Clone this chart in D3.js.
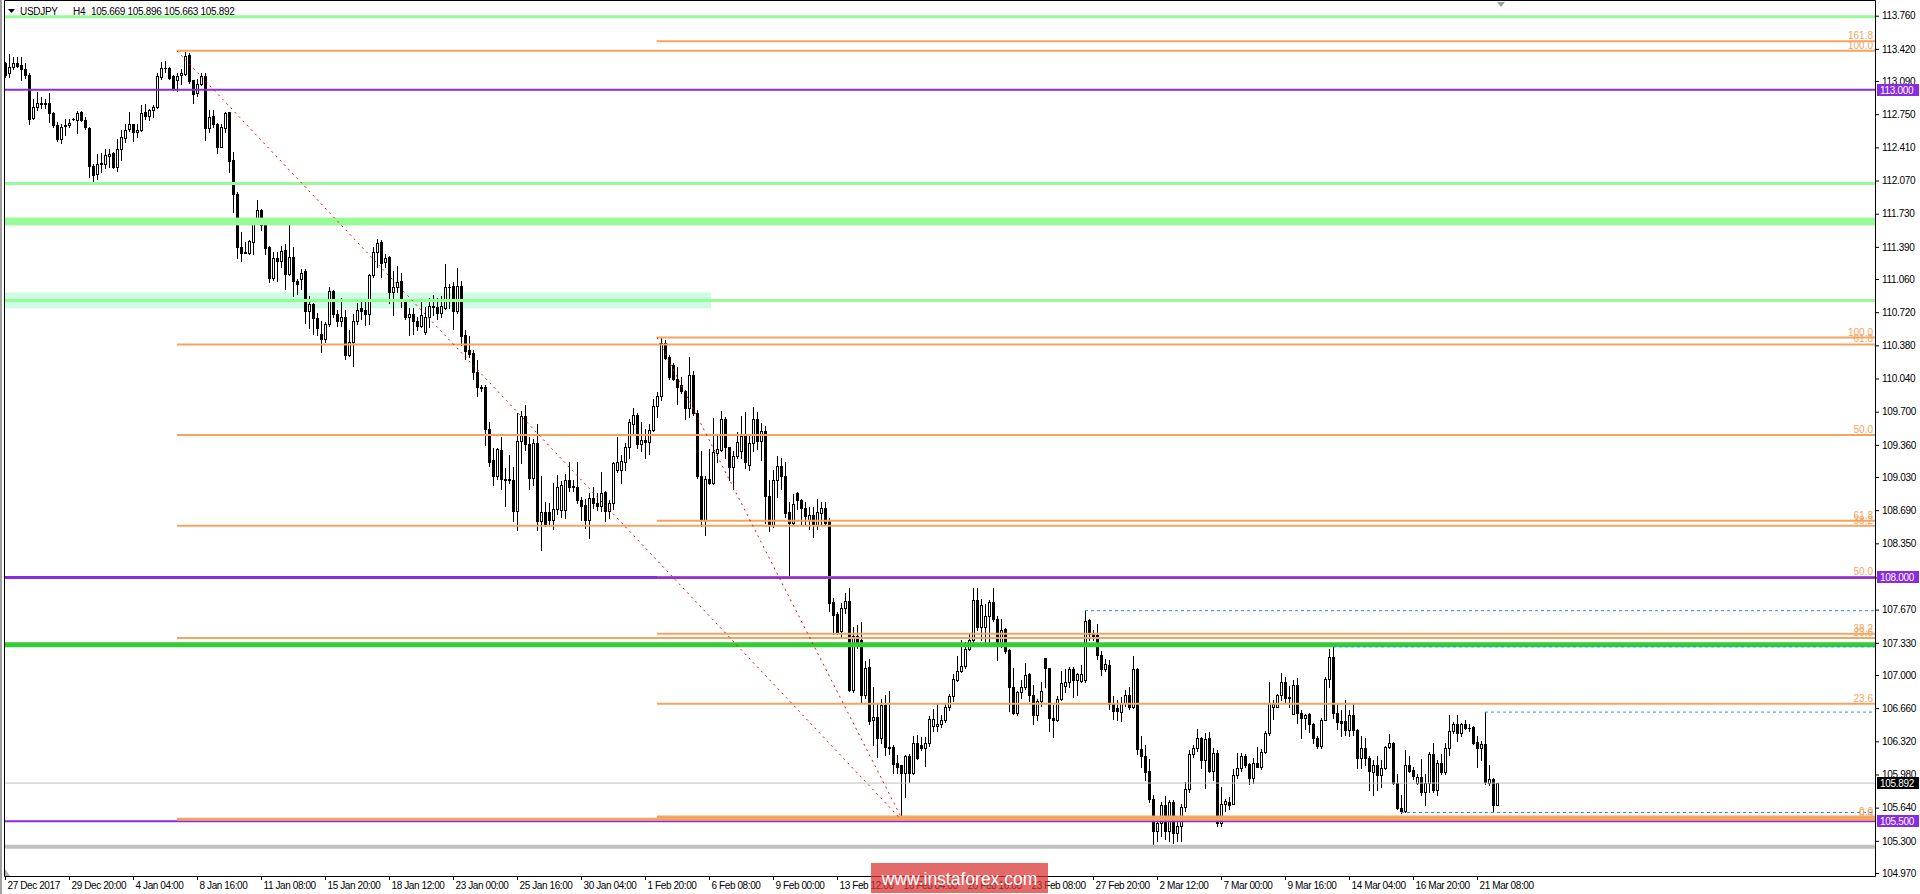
<!DOCTYPE html>
<html>
<head>
<meta charset="utf-8">
<script src="https://cdnjs.cloudflare.com/ajax/libs/d3/7.8.5/d3.min.js"></script>
<style>
  body { margin: 0; background: #fff; overflow: hidden; }
  svg text { font-family: Tahoma, "Liberation Sans", Arial, sans-serif; }
</style>
</head>
<body>
<svg id="chart" width="1920" height="894"></svg>
<script>
// ---- data ----
const symbol = 'USDJPY', period = 'H4';

const opens = [
  113.27,113.17,113.23,113.28,113.25,113.21,113.15,112.71,112.82,112.87,
  112.85,112.87,112.76,112.64,112.50,112.64,112.64,112.70,112.69,112.77,
  112.69,112.61,112.22,112.14,112.24,112.24,112.32,112.35,112.21,112.39,
  112.51,112.60,112.65,112.57,112.59,112.77,112.73,112.79,112.82,113.13,
  113.22,113.22,113.14,113.10,113.15,113.16,113.36,113.10,112.97,113.06,
  113.14,112.61,112.73,112.65,112.41,112.61,112.77,112.28,111.93,111.39,
  111.34,111.33,111.44,111.68,111.77,111.61,111.39,111.07,111.28,111.24,
  111.36,111.11,111.29,111.04,111.06,111.14,110.73,110.80,110.66,110.50,
  110.45,110.60,110.94,110.70,110.63,110.67,110.28,110.41,110.63,110.76,
  110.74,110.70,111.10,111.34,111.44,111.23,111.29,110.93,110.98,111.04,
  110.83,110.67,110.70,110.63,110.58,110.52,110.67,110.78,110.77,110.71,
  110.76,110.98,110.99,110.73,110.99,110.49,110.33,110.30,110.11,109.95,
  109.95,109.52,109.20,109.04,109.31,109.01,109.00,109.00,108.68,109.40,
  109.66,109.37,109.02,109.38,108.58,108.67,108.67,108.59,108.70,108.69,
  108.69,109.00,108.93,108.93,108.79,108.74,108.59,108.81,108.76,108.73,
  108.88,108.68,108.76,109.10,109.10,109.18,109.34,109.57,109.67,109.37,
  109.41,109.39,109.51,109.76,109.86,110.40,110.26,110.18,110.03,109.97,
  109.91,109.74,110.08,109.69,109.04,108.59,109.01,108.97,109.28,109.31,
  109.63,109.34,109.13,109.25,109.30,109.45,109.15,109.38,109.62,109.40,
  109.50,108.84,108.54,109.00,109.14,109.04,108.67,108.56,108.87,108.79,
  108.71,108.59,108.64,108.54,108.66,108.71,108.59,107.75,107.63,107.45,
  107.69,107.76,106.85,107.40,107.36,106.80,107.08,106.54,106.57,106.35,
  106.69,106.26,106.26,106.10,106.08,106.00,106.17,106.00,106.30,106.28,
  106.25,106.30,106.48,106.48,106.50,106.54,106.67,106.78,106.95,107.04,
  107.09,107.27,107.36,107.77,107.49,107.49,107.60,107.75,107.57,107.31,
  107.47,107.26,106.88,106.61,106.83,106.88,107.01,106.80,106.59,106.73,
  107.17,107.07,106.56,106.54,106.75,106.89,106.93,107.06,106.95,106.94,
  106.95,107.56,107.42,107.41,107.21,107.06,107.10,106.71,106.66,106.62,
  106.71,106.79,106.67,107.06,106.24,106.17,106.02,105.73,105.40,105.48,
  105.67,105.40,105.70,105.38,105.45,105.65,105.83,106.19,106.25,106.35,
  106.13,106.35,106.02,106.20,105.48,105.68,105.70,105.68,105.97,106.05,
  106.17,106.09,105.94,106.10,106.06,106.21,106.41,106.67,106.67,106.79,
  106.93,106.77,106.60,106.90,106.61,106.56,106.60,106.50,106.35,106.27,
  106.54,106.96,107.18,106.61,106.53,106.53,106.44,106.59,106.44,106.15,
  106.25,106.15,106.01,106.08,105.97,106.05,106.26,106.30,105.89,105.64,
  105.61,106.08,106.03,105.89,105.95,105.80,105.89,106.19,105.82,106.10,
  106.01,106.25,106.43,106.50,106.41,106.50,106.46,106.47,106.31,106.25,
  106.29,105.89,105.93,105.669
];
const highs = [
  113.29,113.37,113.34,113.34,113.34,113.27,113.17,112.91,112.98,112.93,
  112.91,112.97,112.77,112.67,112.65,112.70,112.70,112.71,112.78,112.78,
  112.72,112.62,112.24,112.34,112.35,112.39,112.39,112.36,112.50,112.59,
  112.65,112.77,112.65,112.65,112.84,112.85,112.80,112.84,113.17,113.29,
  113.30,113.23,113.15,113.17,113.21,113.39,113.38,113.10,113.11,113.17,
  113.17,112.79,112.79,112.66,112.65,112.77,112.77,112.36,111.95,111.54,
  111.44,111.46,111.69,111.87,111.78,111.62,111.40,111.34,111.34,111.40,
  111.42,111.68,111.39,111.06,111.16,111.16,110.89,110.81,110.71,110.63,
  110.62,110.98,110.95,110.74,110.87,110.74,110.54,110.70,110.81,110.85,
  110.83,111.11,111.39,111.47,111.46,111.32,111.30,111.14,111.19,111.12,
  110.84,110.76,110.76,110.67,110.83,110.77,110.87,110.90,110.87,110.89,
  111.21,111.01,111.03,111.17,111.04,110.54,110.48,110.33,110.23,109.97,
  109.97,109.59,109.33,109.33,109.44,109.12,109.26,109.13,109.69,109.71,
  109.77,109.44,109.42,109.57,109.04,108.77,108.76,108.97,109.05,108.99,
  109.06,109.18,109.00,109.18,108.83,108.80,108.87,108.93,108.87,109.08,
  108.89,108.79,109.18,109.44,109.26,109.38,109.63,109.74,109.69,109.59,
  109.52,109.57,109.83,109.90,110.46,110.43,110.28,110.20,110.16,110.06,
  109.92,110.26,110.12,109.72,109.30,109.04,109.32,109.64,109.46,109.71,
  109.65,109.34,109.30,109.49,109.66,109.70,109.45,109.75,109.70,109.58,
  109.55,109.00,109.10,109.25,109.22,109.18,108.77,108.86,108.88,108.80,
  108.77,108.72,108.72,108.80,108.77,108.77,108.61,107.79,107.65,107.74,
  107.84,107.89,107.49,107.51,107.54,107.14,107.16,106.88,106.70,106.75,
  106.79,106.84,106.28,106.18,106.08,106.18,106.19,106.37,106.38,106.36,
  106.36,106.58,106.65,106.71,106.59,106.71,106.81,107.01,107.20,107.36,
  107.34,107.43,107.89,107.89,107.78,107.73,107.77,107.89,107.60,107.57,
  107.48,107.27,107.07,106.84,106.95,107.12,107.02,106.90,106.75,106.93,
  107.17,107.07,106.69,106.78,107.04,107.06,107.08,107.08,107.02,107.10,
  107.66,107.57,107.46,107.52,107.25,107.16,107.15,106.78,106.74,106.77,
  106.85,106.88,107.19,107.07,106.37,106.28,106.14,105.77,105.55,105.70,
  105.76,105.72,105.72,105.52,105.68,105.90,106.23,106.28,106.45,106.36,
  106.41,106.42,106.25,106.23,105.85,105.73,105.75,106.04,106.20,106.20,
  106.19,106.10,106.15,106.26,106.24,106.43,106.93,106.74,106.81,107.02,
  106.98,106.89,106.95,106.97,106.64,106.60,106.61,106.51,106.37,106.56,
  106.98,107.27,107.29,106.71,106.64,106.74,106.64,106.71,106.45,106.37,
  106.35,106.17,106.13,106.17,106.13,106.27,106.40,106.31,105.99,105.77,
  106.23,106.17,106.06,105.99,106.14,105.99,106.21,106.30,106.13,106.19,
  106.30,106.59,106.52,106.59,106.51,106.54,106.50,106.48,106.37,106.32,
  106.62,106.08,105.94,105.896
];
const lows = [
  113.13,113.13,113.21,113.23,113.10,113.12,112.65,112.70,112.79,112.81,
  112.81,112.67,112.62,112.48,112.45,112.54,112.62,112.69,112.56,112.68,
  112.60,112.11,112.04,112.09,112.16,112.20,112.21,112.20,112.17,112.28,
  112.46,112.58,112.48,112.52,112.58,112.70,112.69,112.72,112.81,113.11,
  113.18,113.11,113.00,112.99,113.06,113.15,113.07,112.86,112.94,113.05,
  112.49,112.57,112.62,112.35,112.41,112.57,112.16,111.75,111.28,111.25,
  111.33,111.32,111.32,111.66,111.56,111.32,111.03,111.05,111.04,111.18,
  110.96,111.10,110.89,110.91,110.96,110.61,110.56,110.50,110.49,110.31,
  110.41,110.58,110.67,110.58,110.58,110.24,110.27,110.17,110.60,110.65,
  110.59,110.60,111.08,111.18,111.08,111.18,110.81,110.69,110.93,110.77,
  110.65,110.49,110.50,110.54,110.57,110.50,110.57,110.69,110.65,110.67,
  110.75,110.76,110.55,110.71,110.38,110.24,110.26,110.04,109.86,109.91,
  109.36,109.14,108.95,109.01,108.91,108.73,108.97,108.58,108.49,109.17,
  109.31,108.91,108.95,108.49,108.28,108.53,108.54,108.50,108.65,108.62,
  108.61,108.89,108.89,108.76,108.59,108.51,108.40,108.71,108.69,108.68,
  108.58,108.61,108.70,109.08,108.97,109.10,109.22,109.48,109.33,109.30,
  109.22,109.27,109.50,109.65,109.82,110.24,110.03,110.02,109.78,109.89,
  109.62,109.65,109.67,109.02,108.53,108.44,108.96,108.96,109.18,109.30,
  109.23,109.00,108.91,109.23,109.23,109.12,109.10,109.30,109.32,109.20,
  108.56,108.48,108.52,108.83,108.91,108.62,108.02,108.54,108.70,108.55,
  108.55,108.50,108.42,108.50,108.55,108.55,107.66,107.42,107.42,107.38,
  107.64,106.84,106.83,107.28,106.71,106.76,106.50,106.28,106.16,106.30,
  106.18,106.19,106.00,106.00,105.52,105.75,105.90,105.98,106.14,106.23,
  106.07,106.27,106.43,106.43,106.47,106.52,106.64,106.73,106.94,107.03,
  107.07,107.26,107.33,107.46,107.36,107.34,107.32,107.55,107.15,107.29,
  107.23,106.63,106.60,106.59,106.76,106.86,106.73,106.50,106.54,106.68,
  106.88,106.43,106.36,106.53,106.74,106.83,106.88,106.77,106.80,106.93,
  106.93,107.36,107.36,107.16,107.00,107.04,106.65,106.55,106.54,106.53,
  106.68,106.65,106.66,106.19,106.06,105.92,105.70,105.25,105.30,105.35,
  105.32,105.30,105.28,105.30,105.30,105.61,105.80,106.16,106.22,106.05,
  105.84,106.01,105.92,105.45,105.45,105.61,105.63,105.68,105.94,106.02,
  106.06,105.88,105.89,106.06,106.04,106.20,106.39,106.55,106.67,106.74,
  106.71,106.67,106.60,106.51,106.35,106.45,106.42,106.30,106.25,106.25,
  106.54,106.88,106.56,106.45,106.37,106.38,106.37,106.38,106.05,106.05,
  106.08,105.82,105.77,105.82,105.85,106.04,106.25,105.88,105.63,105.59,
  105.60,106.01,105.93,105.88,105.77,105.67,105.80,105.80,105.77,105.98,
  105.99,106.18,106.41,106.32,106.37,106.45,106.43,106.29,106.06,106.13,
  105.88,105.87,105.61,105.663
];
const closes = [
  113.15,113.23,113.28,113.24,113.21,113.15,112.70,112.82,112.87,112.85,
  112.87,112.76,112.64,112.50,112.62,112.63,112.66,112.70,112.76,112.69,
  112.62,112.22,112.13,112.24,112.25,112.33,112.34,112.21,112.39,112.52,
  112.59,112.65,112.57,112.59,112.76,112.73,112.79,112.82,113.14,113.22,
  113.22,113.12,113.01,113.14,113.17,113.35,113.09,112.96,113.06,113.14,
  112.61,112.72,112.65,112.41,112.62,112.76,112.27,111.93,111.39,111.33,
  111.33,111.45,111.68,111.77,111.61,111.38,111.07,111.28,111.24,111.35,
  111.11,111.29,111.04,111.01,111.12,110.73,110.80,110.66,110.56,110.45,
  110.60,110.94,110.70,110.63,110.67,110.28,110.41,110.63,110.74,110.73,
  110.70,111.10,111.34,111.43,111.22,111.28,110.93,110.98,111.03,110.83,
  110.67,110.70,110.63,110.58,110.69,110.67,110.78,110.77,110.71,110.78,
  110.98,110.98,110.73,110.99,110.48,110.32,110.29,110.11,109.95,109.94,
  109.52,109.18,109.04,109.32,109.01,109.00,109.01,108.68,109.40,109.66,
  109.37,109.02,109.38,108.58,108.67,108.54,108.59,108.70,108.93,108.95,
  109.00,108.93,108.94,108.79,108.73,108.59,108.81,108.76,108.73,108.87,
  108.68,108.76,109.17,109.18,109.19,109.34,109.59,109.67,109.37,109.41,
  109.39,109.51,109.76,109.86,110.40,110.25,110.06,110.03,109.95,109.91,
  109.74,110.08,109.69,109.04,108.59,109.01,108.97,109.29,109.32,109.63,
  109.34,109.13,109.25,109.39,109.45,109.18,109.38,109.62,109.40,109.50,
  108.84,108.54,109.00,109.14,109.04,108.66,108.56,108.75,108.79,108.71,
  108.63,108.64,108.54,108.67,108.71,108.56,107.74,107.62,107.44,107.69,
  107.76,106.85,107.40,107.33,106.80,107.07,106.53,106.57,106.35,106.69,
  106.26,106.25,106.09,106.06,106.00,106.17,106.00,106.30,106.15,106.25,
  106.30,106.55,106.55,106.50,106.54,106.67,106.78,106.96,107.04,107.09,
  107.27,107.36,107.77,107.49,107.72,107.60,107.75,107.57,107.31,107.46,
  107.25,106.88,106.61,106.83,106.88,107.00,106.80,106.59,106.73,106.84,
  107.07,106.56,106.54,106.75,106.92,106.93,107.06,106.95,107.01,107.01,
  107.55,107.42,107.40,107.21,107.06,107.11,106.70,106.63,106.63,106.71,
  106.79,106.67,107.06,106.24,106.17,106.01,105.73,105.40,105.48,105.67,
  105.40,105.70,105.38,105.45,105.65,105.83,106.19,106.25,106.35,106.13,
  106.34,106.02,106.20,105.48,105.68,105.71,105.67,105.97,106.05,106.17,
  106.08,105.94,106.10,106.06,106.21,106.41,106.71,106.70,106.79,106.93,
  106.76,106.76,106.90,106.61,106.56,106.59,106.50,106.35,106.27,106.54,
  106.96,107.18,106.61,106.52,106.51,106.44,106.59,106.44,106.15,106.25,
  106.15,106.02,106.08,105.97,106.05,106.26,106.30,105.89,105.64,105.61,
  106.08,106.02,105.96,105.95,105.80,105.89,106.19,105.82,106.10,106.01,
  106.25,106.43,106.50,106.41,106.50,106.46,106.46,106.30,106.25,106.29,
  105.90,105.93,105.67,105.892
];

// one label every 16 bars
const timeLabels = ['27 Dec 2017','29 Dec 20:00','4 Jan 04:00','8 Jan 16:00','11 Jan 08:00',
  '15 Jan 20:00','18 Jan 12:00','23 Jan 00:00','25 Jan 16:00','30 Jan 04:00','1 Feb 20:00',
  '6 Feb 08:00','9 Feb 00:00','13 Feb 12:00','16 Feb 04:00','20 Feb 16:00','23 Feb 08:00',
  '27 Feb 20:00','2 Mar 12:00','7 Mar 00:00','9 Mar 16:00','14 Mar 04:00','16 Mar 20:00','21 Mar 08:00'];

const priceTicks = [113.76,113.42,113.09,112.75,112.41,112.07,111.73,111.39,111.06,110.72,110.38,
  110.04,109.70,109.36,109.03,108.69,108.35,108.00,107.67,107.33,107.00,106.66,106.32,105.98,
  105.64,105.30,104.97];

// horizontal levels
const roundLevels = [113.0, 108.0, 105.5];      // purple, with axis tags
const greenLevels = [113.75, 112.04, 110.84];   // pale green lines
const greenZone = [111.61, 111.69];             // thick pale green
const mintZone = [110.76, 110.92];              // light zone rectangle
const mintZoneBars = [0, 176.5];
const limeLevel = 107.31;
const grayLevel = 105.24;

// fibonacci retracements: [startBar, endBar, high, low]
const fibA = [43, 224, 113.40, 105.52];
const fibALevels = [100, 61.8, 50, 38.2, 23.6, 0];
const fibB = [163, 224, 110.46, 105.545];
const fibBLevels = [161.8, 100, 61.8, 50, 38.2, 23.6, 0];

// dashed blue lines start at these bars' highs / lows
const blueFromHigh = [270, 332, 370];
const blueFromLow = [349];

// ---- drawing ----
const n = Math.min(opens.length, highs.length, lows.length, closes.length);
const bars = d3.range(n).map(i => ({i, o: opens[i], h: highs[i], l: lows[i], c: closes[i]}));
const last = bars[n - 1];

const axisX = 1875, axisY = 876, plotL = 4;

const x = d3.scaleLinear().domain([0, 373]).range([5, 1497]);
const y = d3.scaleLinear().domain([104.97, 113.76]).range([873, 15.7]);

const svg = d3.select('#chart');
svg.append('rect').attr('width', 1920).attr('height', 894).attr('fill', '#fff');

// background zone
svg.append('rect')
  .attr('x', x(mintZoneBars[0])).attr('width', x(mintZoneBars[1]) - x(mintZoneBars[0]))
  .attr('y', y(mintZone[1])).attr('height', y(mintZone[0]) - y(mintZone[1]))
  .attr('fill', '#ccfce4');

// candles
const cg = svg.append('g').attr('shape-rendering', 'crispEdges');
cg.selectAll('line').data(bars).join('line')
  .attr('x1', d => Math.round(x(d.i)) + 0.5).attr('x2', d => Math.round(x(d.i)) + 0.5)
  .attr('y1', d => Math.round(y(d.h))).attr('y2', d => Math.round(y(d.l)) + 1)
  .attr('stroke', '#000');
cg.selectAll('rect').data(bars).join('rect')
  .each(function(d) {
    const cx = Math.round(x(d.i));
    const top = Math.round(y(Math.max(d.o, d.c)));
    const bot = Math.round(y(Math.min(d.o, d.c)));
    const r = d3.select(this);
    if (d.c > d.o) {
      r.attr('x', cx - 0.5).attr('y', top + 0.5).attr('width', 2).attr('height', Math.max(bot - top, 1))
        .attr('fill', '#fff').attr('stroke', '#000');
    } else {
      r.attr('x', cx - 1).attr('y', top).attr('width', 3).attr('height', Math.max(bot - top + 1, 1))
        .attr('fill', '#000');
    }
  });

// objects on top of candles
const og = svg.append('g');
const hline = (price, x0, w, color, dash) =>
  og.append('line').attr('x1', x0).attr('x2', axisX).attr('y1', y(price)).attr('y2', y(price))
    .attr('stroke', color).attr('stroke-width', w).attr('stroke-dasharray', dash || null);

greenLevels.forEach(p => hline(p, plotL, 3, '#98fb98'));
og.append('rect').attr('x', plotL).attr('width', axisX - plotL)
  .attr('y', y(greenZone[1])).attr('height', y(greenZone[0]) - y(greenZone[1])).attr('fill', '#98fb98');
hline(limeLevel, plotL, 5, '#32cd32');
hline(grayLevel, plotL, 4, '#c0c0c0');
hline(last.c, plotL, 1, '#c0c0c0');

// round numbers (under the fib levels)
roundLevels.forEach(p => hline(p, plotL, p === 108 ? 3 : 2, '#8a2be2'));

// fibonacci
const fibs = [[fibA, fibALevels], [fibB, fibBLevels]];
fibs.forEach(([f, lv]) => {
  const [b0, b1, hi, lo] = f;
  lv.forEach(l => {
    const p = lo + (hi - lo) * l / 100;
    hline(p, x(b0), l === 0 ? 3 : 2, '#f4a460');
  });
});
// purple tops the 108 level again, as in the picture
hline(108.0, plotL, 2, '#8a2be2');

// fibonacci trend lines
fibs.forEach(([f]) => {
  const [b0, b1, hi, lo] = f;
  og.append('line').attr('x1', x(b0)).attr('y1', y(hi)).attr('x2', x(b1)).attr('y2', y(lo))
    .attr('stroke', '#ff0000').attr('stroke-width', 1).attr('stroke-dasharray', '2,4');
});

// blue dashed lines
blueFromHigh.forEach(i => hline(highs[i], x(i), 1, '#1e90ff', '3,3'));
blueFromLow.forEach(i => hline(lows[i], x(i), 1, '#1e90ff', '3,3'));

// fib labels
fibs.forEach(([f, lv]) => {
  const [b0, b1, hi, lo] = f;
  lv.forEach(l => {
    const p = lo + (hi - lo) * l / 100;
    og.append('text').attr('x', axisX - 2).attr('y', y(p) - 2)
      .attr('text-anchor', 'end').attr('font-size', 10).attr('fill', '#f4a460')
      .text(l.toFixed(1));
  });
});

// frame
svg.append('rect').attr('x', 0).attr('y', 0).attr('width', 2).attr('height', 894).attr('fill', '#a0a0a0');
svg.append('path')
  .attr('d', `M${plotL + 0.5},0.5H${axisX + 0.5}V${axisY + 0.5}H${plotL + 0.5}Z`)
  .attr('fill', 'none').attr('stroke', '#000');
// corner marker bottom-left
svg.append('path').attr('d', `M5,${axisY - 7}V${axisY}H10Z`).attr('fill', '#b0b0b0');

// price axis
const yAxis = d3.axisRight(y).tickValues(priceTicks).tickFormat(d3.format('.3f')).tickSize(4).tickPadding(3);
svg.append('g').attr('transform', `translate(${axisX},0)`).call(yAxis)
  .call(g => g.select('.domain').remove())
  .call(g => g.selectAll('line').attr('stroke', '#000'))
  .call(g => g.selectAll('text').attr('font-size', 10).attr('letter-spacing', '-0.3px')
    .attr('font-family', 'Tahoma, "Liberation Sans", Arial, sans-serif').attr('fill', '#000'));

// time axis
const xAxis = d3.axisBottom(x).tickValues(timeLabels.map((_, k) => k * 16))
  .tickFormat((d, k) => timeLabels[k]).tickSize(4).tickPadding(2);
svg.append('g').attr('transform', `translate(0,${axisY})`).call(xAxis)
  .call(g => g.select('.domain').remove())
  .call(g => g.selectAll('line').attr('stroke', '#000'))
  .call(g => g.selectAll('text').attr('text-anchor', 'start').attr('x', 2)
    .attr('font-size', 10).attr('letter-spacing', '-0.4px')
    .attr('font-family', 'Tahoma, "Liberation Sans", Arial, sans-serif').attr('fill', '#000'));

// axis tags
const tag = (price, color) => {
  const g = svg.append('g').attr('transform', `translate(1877,${Math.round(y(price))})`);
  g.append('rect').attr('x', 0).attr('y', -6).attr('width', 42).attr('height', 12).attr('fill', color);
  g.append('text').attr('x', 3).attr('y', 4).attr('font-size', 10).attr('letter-spacing', '-0.3px')
    .attr('fill', '#fff').text(price.toFixed(3));
};
roundLevels.forEach(p => tag(p, '#8a2be2'));
tag(last.c, '#000');

// header
svg.append('path').attr('d', 'M8,9H15L11.5,13Z').attr('fill', '#000');
const hdr = svg.append('text').attr('y', 15).attr('font-size', 10).attr('letter-spacing', '-0.3px').attr('fill', '#000');
hdr.append('tspan').attr('x', 20).text(symbol);
hdr.append('tspan').attr('x', 73).text(period);
hdr.append('tspan').attr('x', 91).text([last.o, last.h, last.l, last.c].map(v => v.toFixed(3)).join(' '));

// chart shift marker
svg.append('path').attr('d', `M${x(373)},2H${x(373) + 8}L${x(373) + 4},7Z`).attr('fill', '#a0a0a0');

// watermark
svg.append('rect').attr('x', 871).attr('y', 863).attr('width', 177).attr('height', 30)
  .attr('fill', '#d9302f').attr('fill-opacity', 0.72);
svg.append('text').attr('x', 959.5).attr('y', 885).attr('text-anchor', 'middle')
  .attr('font-size', 17.5).attr('font-family', 'Arial, "Liberation Sans", sans-serif')
  .attr('fill', '#fff').text('www.instaforex.com');
</script>
</body>
</html>
